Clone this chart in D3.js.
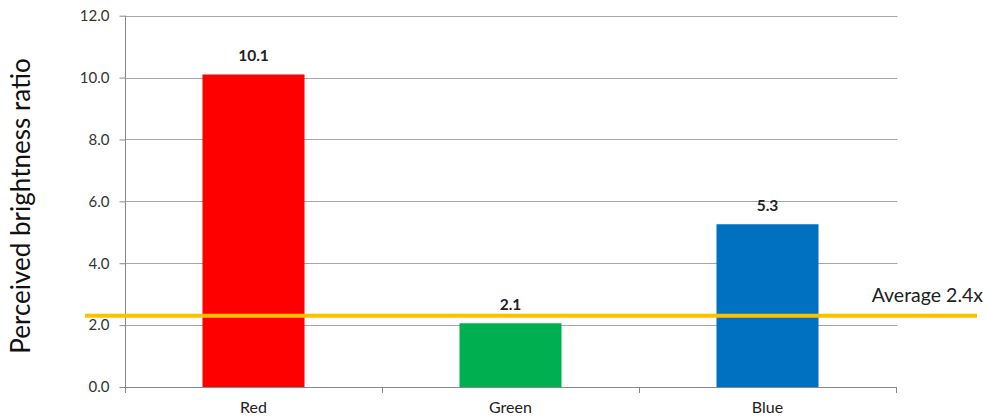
<!DOCTYPE html>
<html><head><meta charset="utf-8">
<script src="https://cdn.jsdelivr.net/npm/d3@7"></script>
<style>body{margin:0;background:#fff}svg{display:block}</style>
</head><body>
<svg id="c" width="987" height="417"></svg>
<script>
const categories = ["Red", "Green", "Blue"];
const values = [10.1, 2.06, 5.26];
const valueLabels = ["10.1", "2.1", "5.3"];
const barColors = ["#FF0000", "#00B050", "#0070C0"];
const yTicks = [0, 2, 4, 6, 8, 10, 12];
const averageValue = 2.3;
const averageLabel = "Average 2.4x";
const yTitle = "Perceived brightness ratio";

(function () {
const svg = d3.select("#c");
const mLeft = 125, mRight = 896, mTop = 15.7, mBottom = 387;
const font = "Lato, 'Open Sans', sans-serif";

const y = d3.scaleLinear().domain([0, 12]).range([mBottom, mTop]);
const p = 0.603;
const x = d3.scaleBand().domain(categories).range([mLeft, mRight]).paddingInner(p).paddingOuter(p / 2);

// gridlines
svg.append("g").selectAll("line").data(yTicks.filter(d => d > 0)).join("line")
  .attr("x1", mLeft).attr("x2", mRight + 1.5)
  .attr("y1", d => Math.round(y(d)) + 0.5).attr("y2", d => Math.round(y(d)) + 0.5)
  .attr("stroke", "#A6A6A6").attr("stroke-width", 1);

// y axis
const yAxis = svg.append("g").attr("transform", `translate(${mLeft + 0.5},0)`)
  .call(d3.axisLeft(y).tickValues(yTicks).tickFormat(d3.format(".1f")).tickSize(6).tickPadding(10));
yAxis.select(".domain").remove();
yAxis.selectAll(".tick line").attr("stroke", "#888");
yAxis.selectAll(".tick text").attr("font-family", font).attr("font-size", 15).attr("fill", "#333");
svg.append("line").attr("x1", mLeft + 0.5).attr("x2", mLeft + 0.5).attr("y1", mTop).attr("y2", mBottom + 6)
  .attr("stroke", "#888");

// x axis baseline and ticks at band boundaries
svg.append("line").attr("x1", mLeft).attr("x2", mRight + 1).attr("y1", Math.round(mBottom) + 0.5).attr("y2", Math.round(mBottom) + 0.5)
  .attr("stroke", "#888");
const bounds = categories.map(c => x(c) - x.step() * p / 2).concat([mRight]);
svg.append("g").selectAll("line").data(bounds.slice(1)).join("line")
  .attr("x1", d => Math.round(d) + 0.5).attr("x2", d => Math.round(d) + 0.5)
  .attr("y1", mBottom).attr("y2", mBottom + 6).attr("stroke", "#888");

// bars
svg.append("g").selectAll("rect").data(values).join("rect")
  .attr("x", (d, i) => x(categories[i])).attr("width", x.bandwidth())
  .attr("y", d => y(d)).attr("height", d => y(0) - y(d))
  .attr("fill", (d, i) => barColors[i]);

// value labels
svg.append("g").selectAll("text").data(values).join("text")
  .attr("x", (d, i) => x(categories[i]) + x.bandwidth() / 2)
  .attr("y", d => y(d) - 13)
  .attr("text-anchor", "middle").attr("font-family", font).attr("font-weight", "bold")
  .attr("font-size", 15.5).attr("fill", "#222")
  .text((d, i) => valueLabels[i]);

// category labels
svg.append("g").selectAll("text").data(categories).join("text")
  .attr("x", d => x(d) + x.bandwidth() / 2).attr("y", 413)
  .attr("text-anchor", "middle").attr("font-family", font).attr("font-size", 16).attr("fill", "#222")
  .text(d => d);

// average line
svg.append("line").attr("x1", 85).attr("x2", 977)
  .attr("y1", y(averageValue)).attr("y2", y(averageValue))
  .attr("stroke", "#FFC000").attr("stroke-width", 4);
svg.append("text").attr("x", 983).attr("y", 301.5).attr("text-anchor", "end")
  .attr("font-family", font).attr("font-size", 19.5).attr("fill", "#222").text(averageLabel);

// y title
svg.append("text").attr("transform", `translate(30,206) rotate(-90)`)
  .attr("text-anchor", "middle").attr("font-family", font).attr("font-size", 26).attr("fill", "#111")
  .text(yTitle);
})();
</script>
</body></html>
